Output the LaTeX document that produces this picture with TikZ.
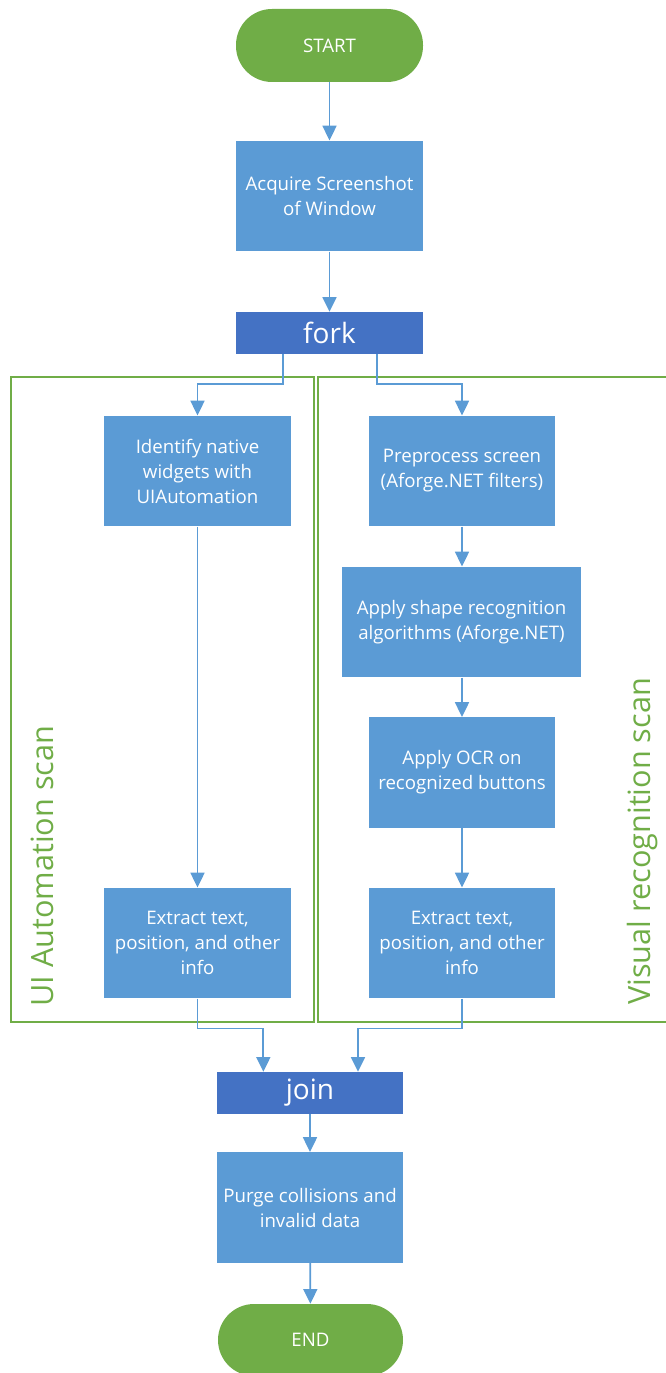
\documentclass[tikz,border=0pt]{standalone}
\usepackage{fontspec}
\setmainfont{Open Sans}
\usetikzlibrary{arrows.meta}
\definecolor{termgreen}{HTML}{70AD47}
\definecolor{stepblue}{HTML}{5B9BD5}
\definecolor{syncblue}{HTML}{4472C4}
\tikzset{
  base/.style={draw=none, text=white, align=center, inner sep=0pt, font=\fontsize{14}{18.75}\selectfont},
  terminal/.style={base, fill=termgreen, minimum width=140.25pt, minimum height=54.75pt, rounded corners=27pt},
  stepbox/.style={base, fill=stepblue, minimum width=140pt, minimum height=83pt},
  widebox/.style={stepbox, minimum width=179.25pt},
  syncbar/.style={base, fill=syncblue, minimum width=140pt, minimum height=31.5pt, font=\fontsize{21}{24}\selectfont},
  arr/.style={draw=stepblue, line width=1.3pt, -{Triangle[length=11pt,width=10.5pt]}},
  lane/.style={draw=termgreen, line width=1.1pt},
  lanelabel/.style={text=termgreen, rotate=90, anchor=base west, inner sep=0pt, font=\fontsize{23}{26}\selectfont}
}
\begin{document}
\begin{tikzpicture}[x=0.75pt, y=-0.75pt]
  \useasboundingbox (0,0) rectangle (665,1373);

  % swimlane frames for the two parallel scans
  \draw[lane] (11,377) rectangle (314,1022);
  \draw[lane] (318,377) rectangle (672,1022);
  \node[lanelabel] (uilabel) at (53,1007) {UI Automation scan};
  \node[lanelabel] (vislabel) at (650,1005) {Visual recognition scan};

  % main flow
  \node[terminal] (start) at (329.5,45.5) {START};
  \node[stepbox] (acq) at (329.5,196) {Acquire Screenshot\\of Window};
  \node[syncbar] (fork) at (329.5,333) {fork};

  % UI Automation branch
  \node[stepbox] (ident) at (197.5,471) {Identify native\\widgets with\\UIAutomation};
  \node[stepbox] (lext) at (197.5,943) {Extract text,\\position, and other\\info};

  % visual recognition branch
  \node[stepbox] (pre) at (462,471) {Preprocess screen\\(Aforge.NET filters)};
  \node[widebox] (shape) at (461.5,622) {Apply shape recognition\\algorithms (Aforge.NET)};
  \node[stepbox] (ocr) at (462,772.5) {Apply OCR on\\recognized buttons};
  \node[stepbox] (rext) at (462,943) {Extract text,\\position, and other\\info};

  % merge and finish
  \node[syncbar] (join) at (310,1093) {join};
  \node[stepbox] (purge) at (310,1207.5) {Purge collisions and\\invalid data};
  \node[terminal, minimum width=138.75pt, minimum height=54pt] (finish) at (310.5,1340) {END};

  % connectors
  \draw[arr] (start) -- (acq);
  \draw[arr] (acq) -- (fork);
  \draw[arr] ([xshift=-35pt]fork.south) -- ++(0,30) -| (ident.north);
  \draw[arr] ([xshift=35.5pt]fork.south) -- ++(0,30) -| (pre.north);
  \draw[arr] (ident) -- (lext);
  \draw[arr] (pre) -- (pre |- shape.north);
  \draw[arr] (shape.south -| ocr) -- (ocr);
  \draw[arr] (ocr) -- (rext);
  \draw[arr] (lext.south) -- ++(0,30) -| ([xshift=-35pt]join.north);
  \draw[arr] (rext.south) -- ++(0,30) -| ([xshift=36pt]join.north);
  \draw[arr] (join) -- (purge);
  \draw[arr] (purge) -- (finish);
\end{tikzpicture}
\end{document}
